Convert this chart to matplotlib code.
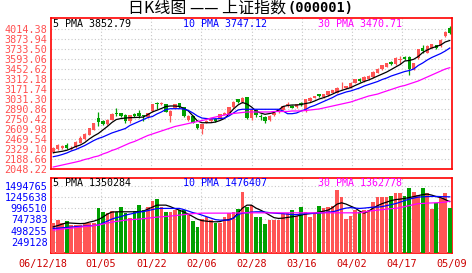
import matplotlib
matplotlib.use('Agg')
import matplotlib.pyplot as plt
import numpy as np
from matplotlib.transforms import ScaledTranslation

# daily candles, 2006-12-18 .. 2007-05-09
opens = [2280, 2330, 2340, 2390, 2330, 2360, 2420, 2470, 2530, 2600,
         2760, 2720, 2680, 2740, 2840, 2830, 2810, 2720, 2820, 2830,
         2800, 2780, 2863, 2975, 2965, 2957, 2793, 2909, 2970, 2919,
         2732, 2793, 2676, 2606, 2698, 2722, 2755, 2755, 2806, 2825,
         2919, 3027, 2989, 3059, 2760, 2870, 2790, 2780, 2730, 2800,
         2850, 2877, 2950, 2930, 2919, 2979, 2863, 3003, 3050, 3097,
         3059, 3087, 3116, 3120, 3181, 3181, 3190, 3260, 3316, 3280,
         3307, 3340, 3400, 3448, 3485, 3555, 3518, 3580, 3625, 3625,
         3448, 3611, 3752, 3682, 3752, 3785, 3775, 3916, 4032]
closes = [2348, 2380, 2375, 2345, 2350, 2430, 2490, 2545, 2620, 2690,
          2715, 2680, 2740, 2820, 2820, 2790, 2720, 2800, 2795, 2790,
          2790, 2830, 2957, 2965, 2979, 2853, 2863, 2957, 2919, 2793,
          2793, 2698, 2620, 2676, 2722, 2755, 2722, 2816, 2839, 2919,
          2994, 2989, 3050, 2769, 2880, 2800, 2785, 2725, 2790, 2830,
          2886, 2933, 2955, 2909, 2957, 2947, 3027, 3050, 3073, 3073,
          3097, 3144, 3153, 3190, 3190, 3214, 3260, 3307, 3284, 3345,
          3354, 3410, 3457, 3504, 3532, 3518, 3611, 3590, 3588, 3448,
          3532, 3729, 3710, 3775, 3799, 3752, 3860, 3972, 3954]
highs = [2360, 2395, 2385, 2410, 2365, 2440, 2505, 2560, 2630, 2700,
         2850, 2740, 2750, 2830, 2900, 2840, 2820, 2810, 2830, 2870,
         2810, 2840, 2965, 2990, 2985, 2965, 2870, 2965, 2979, 2925,
         2800, 2800, 2685, 2685, 2730, 2765, 2765, 2825, 2850, 2925,
         3000, 3035, 3060, 3065, 2890, 2890, 2820, 2790, 2800, 2840,
         2895, 2940, 2990, 2945, 2965, 2990, 3035, 3060, 3080, 3105,
         3105, 3150, 3160, 3195, 3275, 3220, 3270, 3315, 3325, 3350,
         3365, 3420, 3465, 3510, 3540, 3560, 3620, 3635, 3635, 3635,
         3540, 3735, 3785, 3785, 3805, 3795, 3870, 3980, 4060]
lows = [2275, 2320, 2330, 2335, 2320, 2350, 2410, 2460, 2520, 2590,
        2650, 2660, 2670, 2730, 2790, 2780, 2700, 2700, 2780, 2770,
        2720, 2770, 2850, 2886, 2950, 2845, 2713, 2900, 2910, 2785,
        2725, 2690, 2610, 2544, 2690, 2715, 2715, 2745, 2800, 2820,
        2910, 2980, 2980, 2750, 2740, 2780, 2740, 2700, 2720, 2790,
        2840, 2870, 2920, 2900, 2910, 2940, 2855, 2995, 3040, 3065,
        3040, 3080, 3110, 3110, 3175, 3175, 3185, 3255, 3275, 3270,
        3300, 3330, 3390, 3440, 3475, 3505, 3510, 3518, 3580, 3364,
        3440, 3600, 3682, 3675, 3745, 3740, 3765, 3905, 3940]
# volume in thousands
volumes = [659, 731, 672, 709, 621, 621, 621, 659, 659, 672,
           1006, 917, 895, 940, 917, 1028, 880, 783, 940, 1065,
           954, 1028, 1162, 1199, 1028, 917, 917, 954, 954, 954,
           843, 716, 583, 748, 805, 731, 672, 672, 805, 880,
           917, 976, 1361, 1028, 1065, 805, 805, 643, 731, 731,
           731, 865, 880, 954, 821, 1028, 917, 792, 880, 1043,
           992, 1028, 1043, 1399, 1250, 747, 821, 954, 917, 954,
           954, 1139, 1250, 1250, 1250, 1266, 1326, 1339, 1266, 1437,
           1361, 1288, 1437, 1339, 970, 1103, 1215, 1326, 992]
volumes = [v * 1000 for v in volumes]

ma5 = [2277, 2287, 2297, 2311, 2336, 2364, 2385, 2420, 2470, 2512,
       2547, 2596, 2645, 2701, 2743, 2757, 2764, 2769, 2771, 2774,
       2778, 2813, 2849, 2873, 2898, 2926, 2933, 2933, 2926, 2898,
       2863, 2793, 2722, 2698, 2698, 2698, 2708, 2729, 2757, 2820,
       2891, 2947, 2982, 2961, 2919, 2863, 2835, 2816, 2827, 2842,
       2877, 2926, 2940, 2947, 2947, 2954, 2968, 2979, 3003, 3031,
       3050, 3073, 3101, 3130, 3151, 3172, 3190, 3221, 3249, 3277,
       3298, 3326, 3354, 3382, 3410, 3445, 3481, 3516, 3565, 3572,
       3589, 3628, 3684, 3719, 3747, 3768, 3790, 3832, 3852.79]
ma10 = [2221, 2234, 2252, 2273, 2301, 2322, 2350, 2378, 2413, 2448,
        2477, 2498, 2526, 2554, 2575, 2596, 2617, 2659, 2687, 2715,
        2743, 2771, 2785, 2821, 2849, 2884, 2895, 2895, 2895, 2891,
        2870, 2835, 2793, 2764, 2757, 2753, 2753, 2757, 2764, 2793,
        2835, 2877, 2887, 2887, 2887, 2887, 2887, 2887, 2887, 2887,
        2887, 2863, 2825, 2825, 2835, 2863, 2884, 2919, 2940, 2968,
        2996, 3024, 3052, 3087, 3108, 3130, 3144, 3165, 3186, 3214,
        3235, 3256, 3277, 3305, 3326, 3354, 3375, 3396, 3417, 3431,
        3452, 3502, 3537, 3579, 3614, 3642, 3670, 3705, 3747.12]
ma30 = [2076, 2090, 2104, 2118, 2132, 2146, 2161, 2182, 2196, 2217,
        2231, 2259, 2280, 2308, 2329, 2357, 2385, 2413, 2434, 2462,
        2491, 2519, 2540, 2561, 2582, 2603, 2624, 2645, 2659, 2673,
        2687, 2701, 2715, 2729, 2743, 2764, 2778, 2793, 2806, 2821,
        2828, 2835, 2842, 2849, 2849, 2849, 2849, 2849, 2849, 2856,
        2856, 2856, 2856, 2863, 2863, 2863, 2870, 2877, 2884, 2891,
        2905, 2919, 2933, 2947, 2961, 2975, 2989, 3010, 3031, 3052,
        3073, 3087, 3101, 3123, 3144, 3165, 3186, 3207, 3221, 3242,
        3263, 3284, 3312, 3340, 3368, 3396, 3424, 3452, 3470.71]

vma5 = [582, 610, 643, 672, 665, 659, 654, 659, 687, 709,
        743, 798, 865, 910, 917, 917, 917, 917, 917, 921,
        932, 976, 1021, 1065, 1065, 1065, 1032, 988, 954, 910,
        865, 809, 754, 720, 709, 698, 694, 698, 731, 743,
        776, 887, 999, 1065, 1065, 999, 954, 903, 843, 787,
        770, 776, 792, 805, 821, 843, 865, 876, 887, 910,
        932, 954, 1010, 1088, 1117, 1088, 1043, 999, 932, 887,
        932, 999, 1054, 1099, 1132, 1166, 1188, 1199, 1215, 1233,
        1255, 1277, 1299, 1311, 1288, 1255, 1233, 1188, 1143]
vma10 = [547, 554, 560, 570, 577, 585, 592, 599, 605, 614,
         621, 665, 709, 754, 787, 809, 843, 865, 887, 910,
         921, 943, 965, 988, 992, 992, 992, 992, 992, 965,
         932, 898, 876, 843, 809, 776, 743, 731, 731, 731,
         776, 854, 887, 898, 910, 917, 917, 910, 898, 887,
         880, 876, 865, 854, 854, 865, 876, 880, 880, 887,
         898, 910, 917, 943, 976, 999, 1010, 999, 992, 999,
         1010, 1021, 1021, 1032, 1054, 1077, 1099, 1132, 1166, 1199,
         1222, 1244, 1250, 1255, 1259, 1259, 1255, 1252, 1250]
vma30 = [510, 521, 532, 543, 554, 565, 577, 588, 599, 610,
         621, 643, 665, 687, 703, 716, 731, 743, 747, 754,
         765, 776, 787, 798, 805, 814, 821, 832, 843, 854,
         865, 876, 880, 887, 887, 887, 887, 887, 887, 887,
         887, 891, 894, 894, 894, 894, 894, 894, 894, 894,
         894, 894, 894, 894, 894, 894, 894, 894, 894, 894,
         894, 894, 894, 894, 894, 894, 894, 894, 894, 910,
         932, 943, 954, 965, 976, 988, 992, 1010, 1032, 1054,
         1077, 1099, 1103, 1110, 1114, 1118, 1123, 1132, 1154]
vma5 = [v * 1000 for v in vma5]
vma10 = [v * 1000 for v in vma10]
vma30 = [v * 1000 for v in vma30]

date_labels = ['06/12/18', '01/05', '01/22', '02/06', '02/28',
               '03/16', '04/02', '04/17', '05/09']
price_ticks = [2048.22 + 140.44 * k for k in range(15)]
vol_ticks = [249127.5 * k for k in range(1, 7)]

RED = '#ff5555'
GREEN = '#00a000'
GRID = '#c8c8c8'
MONO = 'DejaVu Sans Mono'
CJK = ['Noto Sans CJK SC', 'DejaVu Sans']

W, H = 472, 273
def box(x0, y0, x1, y1):
    return [x0 / W, 1 - y1 / H, (x1 - x0) / W, (y1 - y0) / H]

fig = plt.figure(figsize=(W / 100, H / 100), dpi=100)
ax = fig.add_axes(box(51, 18, 452, 169))
axv = fig.add_axes(box(51, 177.5, 452, 253))

n = len(closes)
x = np.arange(n)
o = np.array(opens, float)
c = np.array(closes, float)
up = c >= o
cols = np.where(up, RED, GREEN)

xpos = [-0.5 + n * k / 8 for k in range(9)]

# price panel
ax.vlines(x, lows, highs, colors=cols, lw=0.9, zorder=3)
body = np.maximum(np.abs(c - o), 6)
ax.bar(x, body, bottom=np.minimum(o, c), width=0.75, color=cols, lw=0, zorder=3)
ax.plot(x, ma5, color='black', lw=0.9, zorder=4)
ax.plot(x, ma10, color='#0000ff', lw=0.9, zorder=4)
ax.plot(x, ma30, color='#ff00ff', lw=0.9, zorder=4)
ax.set_xlim(-0.5, n - 0.5)
ax.set_ylim(2048.22, 2048.22 + 140.44 * 15.1)
ax.set_yticks(price_ticks)
ax.set_yticklabels(['%.2f' % v for v in price_ticks])
ax.set_xticks([])
for v in price_ticks[1:]:
    ax.axhline(v, color=GRID, lw=0.8, ls=(0, (1, 2)), zorder=1)
for p in xpos[1:-1]:
    ax.axvline(p, color=GRID, lw=0.8, ls=(0, (1, 2)), zorder=1)
ax.tick_params(axis='y', length=0, pad=2.5, labelsize=7.3, labelcolor='#ff5050')
for t in ax.get_yticklabels():
    t.set_family(MONO)

ax.text(0.006, 0.963, '5 PMA 3852.79', transform=ax.transAxes, color='black',
        family=MONO, fontsize=7.2, va='center', ha='left')
ax.text(0.329, 0.963, '10 PMA 3747.12', transform=ax.transAxes, color='#0000ff',
        family=MONO, fontsize=7.2, va='center', ha='left')
ax.text(0.666, 0.963, '30 PMA 3470.71', transform=ax.transAxes, color='#ff00ff',
        family=MONO, fontsize=7.2, va='center', ha='left')

# volume panel
axv.bar(x, volumes, width=0.8, color=cols, lw=0, zorder=3)
axv.plot(x, vma5, color='black', lw=0.9, zorder=4)
axv.plot(x, vma10, color='#0000ff', lw=0.9, zorder=4)
axv.plot(x, vma30, color='#ff00ff', lw=0.9, zorder=4)
axv.set_xlim(-0.5, n - 0.5)
axv.set_ylim(0, 1680000)
axv.set_yticks(vol_ticks)
axv.set_yticklabels(['%d' % int(v + 0.5) for v in vol_ticks])
for v in vol_ticks:
    axv.axhline(v, color=GRID, lw=0.8, ls=(0, (1, 2)), zorder=1)
for p in xpos[1:-1]:
    axv.axvline(p, color=GRID, lw=0.8, ls=(0, (1, 2)), zorder=1)
axv.set_xticks(xpos)
axv.set_xticklabels(date_labels)
axv.tick_params(axis='y', length=0, pad=2.5, labelsize=7.3, labelcolor='#0000ff')
axv.tick_params(axis='x', length=0, pad=4, labelsize=7.3, labelcolor='#cc0000')
for t in axv.get_yticklabels() + axv.get_xticklabels():
    t.set_family(MONO)
first = axv.get_xticklabels()[0]
first.set_transform(first.get_transform() + ScaledTranslation(-8 / 100, 0, fig.dpi_scale_trans))

axv.text(0.006, 0.925, '5 PMA 1350284', transform=axv.transAxes, color='black',
         family=MONO, fontsize=7.2, va='center', ha='left')
axv.text(0.329, 0.925, '10 PMA 1476407', transform=axv.transAxes, color='#0000ff',
         family=MONO, fontsize=7.2, va='center', ha='left')
axv.text(0.666, 0.925, '30 PMA 1362778', transform=axv.transAxes, color='#ff00ff',
         family=MONO, fontsize=7.2, va='center', ha='left')

for a in (ax, axv):
    for s in a.spines.values():
        s.set_color('red')
        s.set_linewidth(1.2)
    a.spines['left'].set_linestyle((0, (1, 1)))
    a.set_facecolor('white')

# title: Chinese part + bold code
fig.text(286 / W, 1 - 8.5 / H, '日K线图 —— 上证指数', ha='right', va='center',
         fontsize=11.5, family=CJK, color='black')
fig.text(287 / W, 1 - 8.5 / H, '(000001)', ha='left', va='center',
         fontsize=9.8, family=MONO, weight='bold', color='black')

fig.savefig('out.png', dpi=100, facecolor='white')
